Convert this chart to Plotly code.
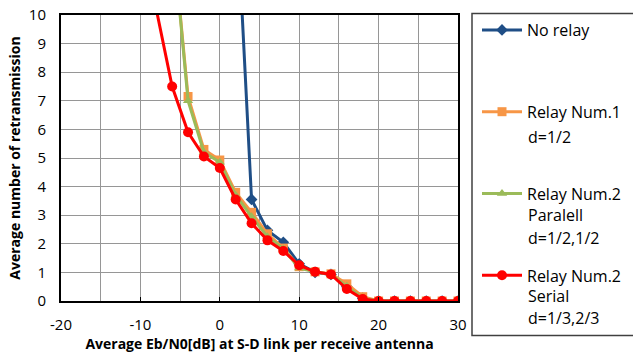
import plotly.graph_objects as go

# ---- data ----
x_blue = [2, 4, 6, 8, 10, 12, 14, 16, 18, 20, 22, 24, 26, 28, 30]
y_blue = [14.5, 3.55, 2.47, 2.05, 1.3, 1.0, 0.93, 0.5, 0.1, 0, 0, 0, 0, 0, 0]

x_orange = [-6, -4, -2, 0, 2, 4, 6, 8, 10, 12, 14, 16, 18, 20, 22, 24, 26, 28, 30]
y_orange = [13.0, 7.15, 5.3, 4.93, 3.8, 3.1, 2.35, 1.85, 1.2, 1.02, 0.95, 0.6, 0.15, 0, 0, 0, 0, 0, 0]

x_green = [-6, -4, -2, 0, 2, 4, 6, 8, 10, 12, 14, 16, 18, 20, 22, 24, 26, 28, 30]
y_green = [13.0, 7.0, 5.2, 4.85, 3.7, 2.95, 2.25, 1.82, 1.15, 1.02, 0.93, 0.52, 0.1, 0, 0, 0, 0, 0, 0]

x_red = [-8, -6, -4, -2, 0, 2, 4, 6, 8, 10, 12, 14, 16, 18, 20, 22, 24, 26, 28, 30]
y_red = [10.2, 7.5, 5.9, 5.05, 4.65, 3.55, 2.72, 2.12, 1.75, 1.25, 1.02, 0.93, 0.42, 0.07, 0, 0, 0, 0, 0, 0]

names = ["No relay", "Relay Num.1", "Relay Num.2", "Relay Num.2"]
extra_lines = [[], ["d=1/2"], ["Paralell", "d=1/2,1/2"], ["Serial", "d=1/3,2/3"]]

x_ticks = [-20, -10, 0, 10, 20, 30]
y_ticks = list(range(0, 11))

FONT = "Open Sans"
W, H = 633, 354
ML, MR, MT, MB = 61, 175, 15, 53
PW = W - ML - MR
PH = H - MT - MB


def px(xpix):
    return (xpix - ML) / PW


def py(ypix):
    return (H - MB - ypix) / PH


fig = go.Figure()

styles = [
    dict(color="#1F4E86", symbol="diamond", size=9, lw=3),
    dict(color="#F79646", symbol="square", size=9, lw=3),
    dict(color="#9BBB59", symbol="triangle-up", size=9, lw=3),
    dict(color="#FF0000", symbol="circle", size=10, lw=3),
]
series = [(x_blue, y_blue), (x_orange, y_orange), (x_green, y_green), (x_red, y_red)]

for i, ((xs, ys), st) in enumerate(zip(series, styles)):
    fig.add_trace(go.Scatter(
        x=xs, y=ys, mode="lines+markers", name=names[i],
        legendgroup=f"g{i}",
        line=dict(color=st["color"], width=st["lw"]),
        marker=dict(color=st["color"], symbol=st["symbol"], size=st["size"],
                    line=dict(width=0)),
        cliponaxis=True,
    ))

grid = "#969696"
fig.update_xaxes(
    range=[-20, 30], tickvals=x_ticks, ticktext=[str(v) for v in x_ticks],
    showgrid=True, gridcolor=grid, gridwidth=1,
    minor=dict(dtick=5, tick0=0, showgrid=True, gridcolor=grid, gridwidth=1),
    showline=True, linecolor="black", linewidth=2, mirror=True,
    ticks="inside", ticklen=4, tickcolor="black",
    ticklabelstandoff=9,
    zeroline=False,
    tickfont=dict(family=FONT, size=15, color="black"),
    title=dict(text="<b>Average Eb/N0[dB] at S-D link per receive antenna</b>",
               font=dict(family=FONT, size=14, color="black"), standoff=6),
    automargin=False,
)
fig.update_yaxes(
    range=[0, 10], tickvals=y_ticks, ticktext=[str(v) for v in y_ticks],
    showgrid=True, gridcolor=grid, gridwidth=1,
    showline=True, linecolor="black", linewidth=2, mirror=True,
    ticks="", zeroline=False,
    ticklabelstandoff=10,
    tickfont=dict(family=FONT, size=15, color="black"),
    title=dict(text="<b>Average number of retransmission</b>",
               font=dict(family=FONT, size=14, color="black"), standoff=5),
    automargin=False,
)

annotations = []
line_y = [[], [137], [215, 238], [296, 318]]
for lines, ys in zip(extra_lines, line_y):
    for t, yy in zip(lines, ys):
        annotations.append(dict(
            text=t, xref="paper", yref="paper", x=px(526), y=py(yy),
            xanchor="left", yanchor="middle", showarrow=False,
            font=dict(family=FONT, size=16, color="black"),
        ))

fig.update_layout(
    width=W, height=H,
    margin=dict(l=ML, r=MR, t=MT, b=MB, autoexpand=False),
    paper_bgcolor="white", plot_bgcolor="white",
    showlegend=True,
    legend=dict(
        x=px(477), y=py(13), xanchor="left", yanchor="top",
        traceorder="grouped", tracegroupgap=58, itemwidth=40,
        maxheight=1.0,
        font=dict(family=FONT, size=16, color="black"),
        bgcolor="rgba(0,0,0,0)", borderwidth=0, valign="middle",
    ),
    shapes=[dict(type="rect", xref="paper", yref="paper",
                 x0=px(472), x1=px(640), y0=py(335.5), y1=py(13.5),
                 line=dict(color="#404040", width=1.5), layer="above")],
    annotations=annotations,
)

fig.write_html(
    "out.html",
    config={"displayModeBar": False},
    post_script="document.body.style.margin='0px';document.body.style.overflow='hidden';",
)
